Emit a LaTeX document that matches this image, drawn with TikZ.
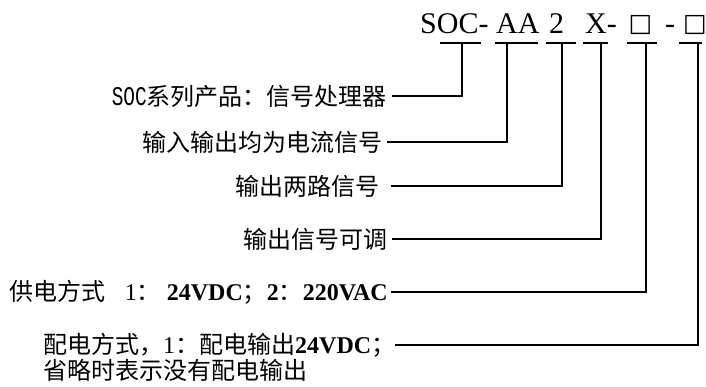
\documentclass[tikz,border=0pt]{standalone}
\usepackage{fontspec}
\setmainfont{Liberation Serif}
\newfontfamily\cjk{Noto Sans CJK SC}
\newfontfamily\monof{Liberation Mono}
\newfontfamily\symf{DejaVu Sans}
\begin{document}
\begin{tikzpicture}[x=1pt,y=1pt,
  lab/.style={anchor=east, inner ysep=0pt, font=\cjk\fontsize{24}{28}\selectfont},
  conn/.style={line width=1.4pt},
  ttl/.style={anchor=base west, inner sep=0pt, font=\fontsize{30}{36}\selectfont},
  boxch/.style={anchor=center, inner sep=0pt, font=\symf\fontsize{25}{28}\selectfont}]
\useasboundingbox (0,0) rectangle (706,386);
% title
\node[ttl] (tsoc) at (420,352) {SOC-};
\node[ttl] (taa) at (496,352) {AA};
\node[ttl] (t2) at (549,352) {2};
\node[ttl] (tx) at (585,352) {X-};
\node[boxch] (tb1) at (640.5,361) {□};
\node[ttl] (td) at (665,352) {-};
\node[boxch] (tb2) at (695,361) {□};
% underline coordinates
\coordinate (u1a) at (440,343); \coordinate (u1b) at (481,343); \coordinate (v1) at (462,343);
\coordinate (u2a) at (495,343); \coordinate (u2b) at (538,343); \coordinate (v2) at (507,343);
\coordinate (u3a) at (546,343); \coordinate (u3b) at (576,343); \coordinate (v3) at (562,343);
\coordinate (u4a) at (583,343); \coordinate (u4b) at (608,343); \coordinate (v4) at (601,343);
\coordinate (u5a) at (627,343); \coordinate (u5b) at (657,343); \coordinate (v5) at (646,343);
\coordinate (u6a) at (679,343); \coordinate (u6b) at (702,343); \coordinate (v6) at (698,343);
% labels
\node[lab, inner xsep=5pt] (lab1) at (392,290) {\scalebox{0.72}[1]{\monof\fontsize{27}{28}\selectfont SOC}系列产品：信号处理器};
\node[lab, inner xsep=4pt] (lab2) at (387,244) {输入输出均为电流信号};
\node[lab, inner xsep=11pt] (lab3) at (391,200) {输出两路信号};
\node[lab, inner xsep=4pt] (lab4) at (392,147) {输出信号可调};
\node[lab, inner xsep=3pt] (lab5) at (391,94) {供电方式\hspace{19pt}{\rmfamily 1}：\hspace{6pt}{\rmfamily\bfseries 24VDC}；{\rmfamily\bfseries 2}：{\rmfamily\bfseries 220VAC}};
\node[lab, anchor=west, inner xsep=0pt] (lab6a) at (43,41) {配电方式，{\rmfamily 1}：配电输出{\rmfamily\bfseries 24VDC}；\hspace{-12pt}};
\node[lab, anchor=west, inner xsep=0pt] (lab6b) at (43,16) {省略时表示没有配电输出};
% connectors
\draw[conn] (u1a) -- (u1b); \draw[conn] (lab1.east) -| (v1);
\draw[conn] (u2a) -- (u2b); \draw[conn] (lab2.east) -| (v2);
\draw[conn] (u3a) -- (u3b); \draw[conn] (lab3.east) -| (v3);
\draw[conn] (u4a) -- (u4b); \draw[conn] (lab4.east) -| (v4);
\draw[conn] (u5a) -- (u5b); \draw[conn] (lab5.east) -| (v5);
\draw[conn] (u6a) -- (u6b); \draw[conn] (lab6a.east) -| (v6);
\end{tikzpicture}
\end{document}
